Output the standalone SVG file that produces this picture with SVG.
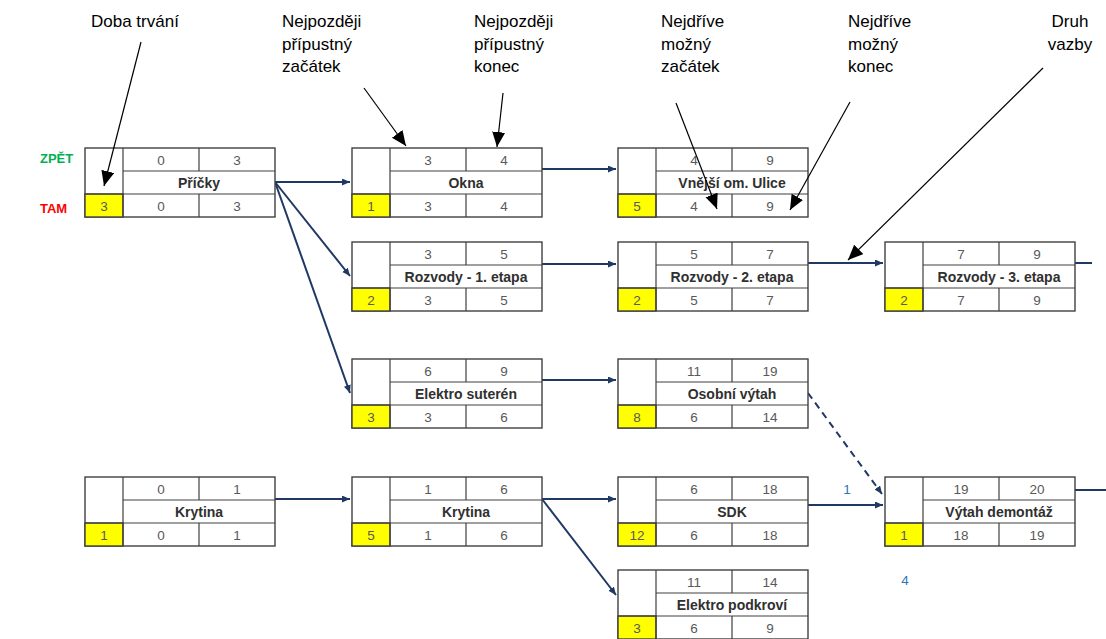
<svg xmlns="http://www.w3.org/2000/svg" width="1106" height="639" viewBox="0 0 1106 639">
<defs>
<style>
.box{fill:#fff;stroke:#404040;stroke-width:1.4}
.dur{fill:#ffff00;stroke:#404040;stroke-width:1.4}
.grid{fill:none;stroke:#404040;stroke-width:1.2}
.num{font-family:"Liberation Sans",Arial,sans-serif;font-size:13.5px;fill:#595959;text-anchor:middle}
.ttl{font-family:"Liberation Sans",Arial,sans-serif;font-size:14px;font-weight:bold;fill:#303030;text-anchor:middle}
.ann{font-family:"Liberation Sans",Arial,sans-serif;font-size:17px;fill:#000}
.aline{fill:none;stroke:#000;stroke-width:1.2;marker-end:url(#bigArrow)}
.conn{fill:none;stroke:#1f3864;stroke-width:2}
.arr{marker-end:url(#smallArrow)}
.dash{stroke-dasharray:7 5}
.side{font-family:"Liberation Sans",Arial,sans-serif;font-size:13px;font-weight:bold}
.lbl{font-family:"Liberation Sans",Arial,sans-serif;font-size:13.5px;fill:#2e75b6;text-anchor:middle}
</style>
<marker id="bigArrow" markerUnits="userSpaceOnUse" markerWidth="16" markerHeight="14" refX="15" refY="6.5" orient="auto">
<path d="M0,0 L15,6.5 L0,13 z" fill="#000"/>
</marker>
<marker id="smallArrow" markerUnits="userSpaceOnUse" markerWidth="9" markerHeight="8" refX="8" refY="3.5" orient="auto">
<path d="M0,0 L8,3.5 L0,7 z" fill="#1f3864"/>
</marker>
<g id="tpl">
<rect class="box" x="0" y="0" width="190" height="69"/>
<rect class="dur" x="0" y="46" width="38" height="23"/>
<path class="grid" d="M38 0V69 M38 23H190 M0 46H190 M114 0V23 M114 46V69"/>
</g>
</defs>

<text class="side" x="40" y="163" fill="#00b050">ZPĚT</text>
<text class="side" x="40" y="213" fill="#ff0000">TAM</text>

<!-- connectors -->
<g id="connectors">
<path class="conn arr" d="M275 182 L350 182"/>
<path class="conn arr" d="M275 182 L350 276"/>
<path class="conn arr" d="M275 182 L350 393"/>
<path class="conn arr" d="M542 169 L616 169"/>
<path class="conn arr" d="M542 264 L616 264"/>
<path class="conn arr" d="M808 263 L883 263"/>
<path class="conn" d="M1074 263 L1092 263"/>
<path class="conn arr" d="M542 380 L616 380"/>
<path class="conn arr dash" d="M808 393 L882 494"/>
<path class="conn arr" d="M275 499 L350 499"/>
<path class="conn arr" d="M542 499 L616 499"/>
<path class="conn arr" d="M542 499 L616 595"/>
<path class="conn arr" d="M808 505 L883 505"/>
<path class="conn" d="M1074 490 L1106 490"/>
<text class="lbl" x="847" y="494">1</text>
<text class="lbl" x="905" y="585">4</text>
</g>

<!-- nodes -->
<g id="pricky" transform="translate(85,148)">
<use href="#tpl"/>
<text class="num" x="76" y="16.5">0</text><text class="num" x="152" y="16.5">3</text>
<text class="ttl" x="114" y="39.5">Příčky</text>
<text class="num" x="19" y="62.5">3</text><text class="num" x="76" y="62.5">0</text><text class="num" x="152" y="62.5">3</text>
</g>
<g id="okna" transform="translate(352,148)">
<use href="#tpl"/>
<text class="num" x="76" y="16.5">3</text><text class="num" x="152" y="16.5">4</text>
<text class="ttl" x="114" y="39.5">Okna</text>
<text class="num" x="19" y="62.5">1</text><text class="num" x="76" y="62.5">3</text><text class="num" x="152" y="62.5">4</text>
</g>
<g id="vnejsi" transform="translate(618,148)">
<use href="#tpl"/>
<text class="num" x="76" y="16.5">4</text><text class="num" x="152" y="16.5">9</text>
<text class="ttl" x="114" y="39.5">Vnější om. Ulice</text>
<text class="num" x="19" y="62.5">5</text><text class="num" x="76" y="62.5">4</text><text class="num" x="152" y="62.5">9</text>
</g>
<g id="rozvody1" transform="translate(352,242)">
<use href="#tpl"/>
<text class="num" x="76" y="16.5">3</text><text class="num" x="152" y="16.5">5</text>
<text class="ttl" x="114" y="39.5">Rozvody - 1. etapa</text>
<text class="num" x="19" y="62.5">2</text><text class="num" x="76" y="62.5">3</text><text class="num" x="152" y="62.5">5</text>
</g>
<g id="rozvody2" transform="translate(618,242)">
<use href="#tpl"/>
<text class="num" x="76" y="16.5">5</text><text class="num" x="152" y="16.5">7</text>
<text class="ttl" x="114" y="39.5">Rozvody - 2. etapa</text>
<text class="num" x="19" y="62.5">2</text><text class="num" x="76" y="62.5">5</text><text class="num" x="152" y="62.5">7</text>
</g>
<g id="rozvody3" transform="translate(885,242)">
<use href="#tpl"/>
<text class="num" x="76" y="16.5">7</text><text class="num" x="152" y="16.5">9</text>
<text class="ttl" x="114" y="39.5">Rozvody - 3. etapa</text>
<text class="num" x="19" y="62.5">2</text><text class="num" x="76" y="62.5">7</text><text class="num" x="152" y="62.5">9</text>
</g>
<g id="elektro-suteren" transform="translate(352,359)">
<use href="#tpl"/>
<text class="num" x="76" y="16.5">6</text><text class="num" x="152" y="16.5">9</text>
<text class="ttl" x="114" y="39.5">Elektro suterén</text>
<text class="num" x="19" y="62.5">3</text><text class="num" x="76" y="62.5">3</text><text class="num" x="152" y="62.5">6</text>
</g>
<g id="osobni-vytah" transform="translate(618,359)">
<use href="#tpl"/>
<text class="num" x="76" y="16.5">11</text><text class="num" x="152" y="16.5">19</text>
<text class="ttl" x="114" y="39.5">Osobní výtah</text>
<text class="num" x="19" y="62.5">8</text><text class="num" x="76" y="62.5">6</text><text class="num" x="152" y="62.5">14</text>
</g>
<g id="krytina1" transform="translate(85,477)">
<use href="#tpl"/>
<text class="num" x="76" y="16.5">0</text><text class="num" x="152" y="16.5">1</text>
<text class="ttl" x="114" y="39.5">Krytina</text>
<text class="num" x="19" y="62.5">1</text><text class="num" x="76" y="62.5">0</text><text class="num" x="152" y="62.5">1</text>
</g>
<g id="krytina2" transform="translate(352,477)">
<use href="#tpl"/>
<text class="num" x="76" y="16.5">1</text><text class="num" x="152" y="16.5">6</text>
<text class="ttl" x="114" y="39.5">Krytina</text>
<text class="num" x="19" y="62.5">5</text><text class="num" x="76" y="62.5">1</text><text class="num" x="152" y="62.5">6</text>
</g>
<g id="sdk" transform="translate(618,477)">
<use href="#tpl"/>
<text class="num" x="76" y="16.5">6</text><text class="num" x="152" y="16.5">18</text>
<text class="ttl" x="114" y="39.5">SDK</text>
<text class="num" x="19" y="62.5">12</text><text class="num" x="76" y="62.5">6</text><text class="num" x="152" y="62.5">18</text>
</g>
<g id="vytah-demontaz" transform="translate(885,477)">
<use href="#tpl"/>
<text class="num" x="76" y="16.5">19</text><text class="num" x="152" y="16.5">20</text>
<text class="ttl" x="114" y="39.5">Výtah demontáž</text>
<text class="num" x="19" y="62.5">1</text><text class="num" x="76" y="62.5">18</text><text class="num" x="152" y="62.5">19</text>
</g>
<g id="elektro-podkrovi" transform="translate(618,570)">
<use href="#tpl"/>
<text class="num" x="76" y="16.5">11</text><text class="num" x="152" y="16.5">14</text>
<text class="ttl" x="114" y="39.5">Elektro podkroví</text>
<text class="num" x="19" y="62.5">3</text><text class="num" x="76" y="62.5">6</text><text class="num" x="152" y="62.5">9</text>
</g>

<!-- annotations -->
<g id="annotations">
<text class="ann" x="91" y="27">Doba trvání</text>
<text class="ann" x="282" y="27">Nejpozději</text>
<text class="ann" x="282" y="49.5">přípustný</text>
<text class="ann" x="282" y="72">začátek</text>
<text class="ann" x="474" y="27">Nejpozději</text>
<text class="ann" x="474" y="49.5">přípustný</text>
<text class="ann" x="474" y="72">konec</text>
<text class="ann" x="661" y="27">Nejdříve</text>
<text class="ann" x="661" y="49.5">možný</text>
<text class="ann" x="661" y="72">začátek</text>
<text class="ann" x="848" y="27">Nejdříve</text>
<text class="ann" x="848" y="49.5">možný</text>
<text class="ann" x="848" y="72">konec</text>
<text class="ann" x="1070" y="27" text-anchor="middle">Druh</text>
<text class="ann" x="1070" y="49.5" text-anchor="middle">vazby</text>
<path class="aline" d="M141 42 L104 186"/>
<path class="aline" d="M364 88 L406 146"/>
<path class="aline" d="M503 93 L497 147"/>
<path class="aline" d="M676 103 L717 209"/>
<path class="aline" d="M850 102 L790 210"/>
<path class="aline" d="M1043 68 L848 260"/>
</g>
</svg>
